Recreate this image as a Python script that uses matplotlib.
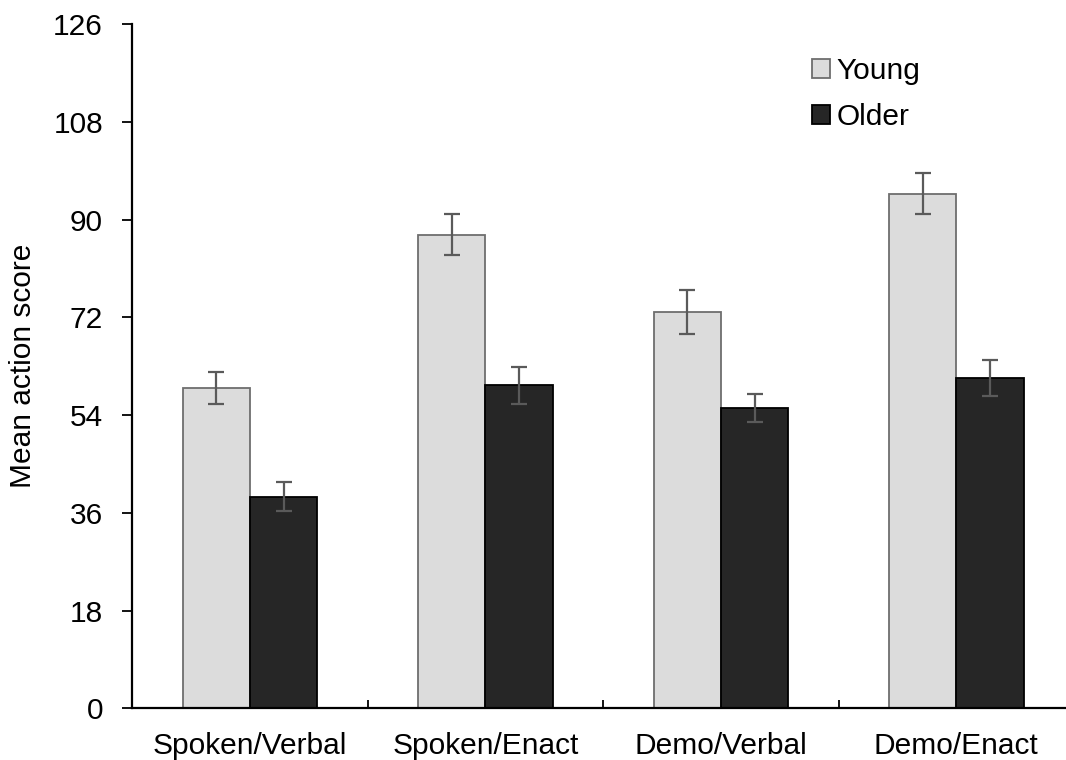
"""
Mean action score by condition, young vs older adults
"""
import matplotlib
matplotlib.use('Agg')
import matplotlib.pyplot as plt
import numpy as np

conditions = ['Spoken/Verbal', 'Spoken/Enact', 'Demo/Verbal', 'Demo/Enact']
young_mean = [59.0, 87.2, 73.0, 94.8]
young_err = [3.0, 3.8, 4.1, 3.8]
older_mean = [39.0, 59.5, 55.3, 60.8]
older_err = [2.7, 3.4, 2.6, 3.3]
y_ticks = [0, 18, 36, 54, 72, 90, 108, 126]

plt.rcParams['font.family'] = ['Liberation Sans', 'DejaVu Sans']
plt.rcParams['font.size'] = 21.5

fig = plt.figure(figsize=(10.66, 7.6), dpi=100)
ax = fig.add_axes([0.1241, 0.0678, 0.8834, 0.9006])

x = np.arange(len(conditions))
width = 0.286
err_kw = dict(ecolor='#5a5a5a', elinewidth=1.6, capsize=6, capthick=1.6)

ax.bar(x - width / 2, young_mean, width, yerr=young_err, color='#dcdcdc',
       edgecolor='#6e6e6e', linewidth=1.3, label='Young', error_kw=err_kw)
ax.bar(x + width / 2, older_mean, width, yerr=older_err, color='#262626',
       edgecolor='#000000', linewidth=1.3, label='Older', error_kw=err_kw)

ax.set_xlim(-0.5, 3.5)
ax.set_ylim(0, 126)
ax.set_yticks(y_ticks)
ax.set_xticks(x)
ax.set_xticklabels(conditions)
ax.set_xticks([0.5, 1.5, 2.5], minor=True)
ax.tick_params(axis='x', which='major', length=0, pad=17)
ax.tick_params(axis='x', which='minor', direction='in', length=6, width=1.3)
ax.tick_params(axis='y', direction='out', length=7, width=1.3, pad=14)
ax.set_ylabel('Mean action score', labelpad=12)

for side in ['top', 'right']:
    ax.spines[side].set_visible(False)
for side in ['left', 'bottom']:
    ax.spines[side].set_linewidth(1.6)

ax.legend(loc='upper left', bbox_to_anchor=(0.748, 0.945), bbox_transform=fig.transFigure,
          frameon=False, handlelength=0.6, handleheight=0.6, handletextpad=0.2,
          labelspacing=0.6, borderpad=0)

plt.savefig('out.png', dpi=100)
plt.close(fig)
